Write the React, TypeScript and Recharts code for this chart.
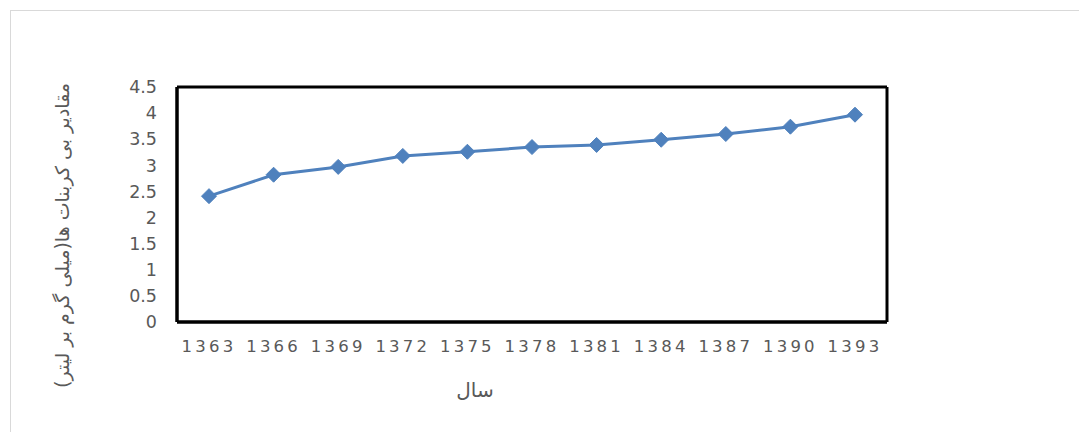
import { LineChart, Line, XAxis, YAxis, CartesianGrid } from 'recharts';

const years = ['1363', '1366', '1369', '1372', '1375', '1378', '1381', '1384', '1387', '1390', '1393'];
const bicarbonate = [2.41, 2.82, 2.97, 3.18, 3.26, 3.35, 3.39, 3.49, 3.6, 3.74, 3.97];
const yTicks = [0, 0.5, 1, 1.5, 2, 2.5, 3, 3.5, 4, 4.5];

const yTitle = 'مقادیر بی کربنات ها(میلی گرم بر لیتر)';
const xTitle = 'سال';

const data = years.map((year, i) => ({ year, value: bicarbonate[i] }));

const textColor = '#595959';
const lineColor = '#4f81bd';
const fontFamily = '"DejaVu Sans", "Noto Sans", sans-serif';

// diamond marker like the Excel series
const Diamond = (props: any) => {
  const { cx, cy } = props;
  if (cx == null || cy == null) return null;
  const r = 7.5;
  return (
    <polygon
      points={`${cx},${cy - r} ${cx + r},${cy} ${cx},${cy + r} ${cx - r},${cy}`}
      fill={lineColor}
      stroke={lineColor}
      strokeWidth={1}
    />
  );
};

const YTitle = (props: any) => {
  const vb = props.viewBox || { x: 0, y: 87, width: 177, height: 235 };
  const x = vb.x + 62;
  const y = vb.y + vb.height / 2 + 31;
  return (
    <text
      x={x}
      y={y}
      transform={`rotate(-90 ${x} ${y})`}
      textAnchor="middle"
      dominantBaseline="central"
      fill={textColor}
      fontSize={19}
      fontFamily={fontFamily}
      style={{ direction: 'rtl' }}
    >
      {yTitle}
    </text>
  );
};

const XTitle = (props: any) => {
  const vb = props.viewBox || { x: 177, y: 322, width: 710, height: 60 };
  const x = vb.x + vb.width / 2 - 57;
  const y = vb.y + 68;
  return (
    <text
      x={x}
      y={y}
      textAnchor="middle"
      dominantBaseline="central"
      fill={textColor}
      fontSize={20}
      fontFamily={fontFamily}
    >
      {xTitle}
    </text>
  );
};

export default function App() {
  return (
    <div style={{ position: 'absolute', left: 0, top: 0, width: 1079, height: 432, background: '#fff' }}>
      <div
        style={{
          position: 'absolute',
          left: 10,
          top: 10,
          width: 1080,
          height: 440,
          border: '1px solid #d9d9d9',
        }}
      />
      <div style={{ position: 'absolute', left: 0, top: 0 }}>
        <LineChart width={1079} height={432} data={data} margin={{ top: 87, right: 192, bottom: 50, left: 0 }}>
          {/* plot area frame */}
          <CartesianGrid
            stroke="#000"
            strokeWidth={3}
            horizontalCoordinatesGenerator={({ offset }: any) => [offset.top, offset.top + offset.height]}
            verticalCoordinatesGenerator={({ offset }: any) => [offset.left, offset.left + offset.width]}
          />
          <XAxis
            dataKey="year"
            height={60}
            padding={{ left: 32, right: 32 }}
            axisLine={{ stroke: '#000', strokeWidth: 3 }}
            tickLine={false}
            tickSize={0}
            tickMargin={18}
            interval={0}
            tick={{ fill: textColor, fontSize: 16.5, fontFamily, letterSpacing: 3.2 }}
            label={<XTitle />}
          />
          <YAxis
            width={177}
            domain={[0, 4.5]}
            ticks={yTicks}
            interval={0}
            axisLine={{ stroke: '#000', strokeWidth: 3 }}
            tickLine={false}
            tickSize={0}
            tickMargin={20}
            tick={{ fill: textColor, fontSize: 17.5, fontFamily }}
            label={<YTitle />}
          />
          <Line
            type="linear"
            dataKey="value"
            stroke={lineColor}
            strokeWidth={3}
            dot={<Diamond />}
            activeDot={false}
            isAnimationActive={false}
          />
        </LineChart>
      </div>
    </div>
  );
}
